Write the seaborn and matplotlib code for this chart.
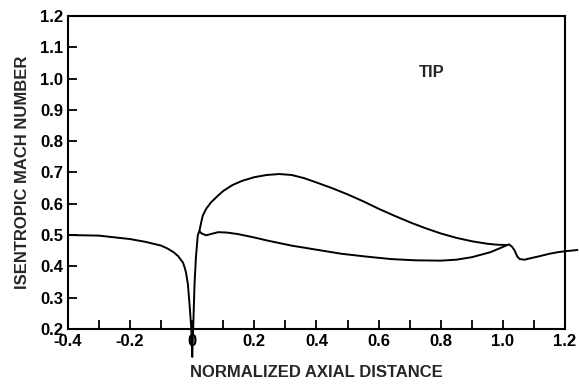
import numpy as np
import pandas as pd
import matplotlib
matplotlib.use("Agg")
import matplotlib.pyplot as plt
import seaborn as sns

# Upstream flow, leading-edge dip and suction surface
suction_x = [-0.40, -0.30, -0.20, -0.15, -0.10, -0.08, -0.06, -0.045, -0.03, -0.025,
             -0.02, -0.014, -0.008, -0.003, 0.0, 0.003, 0.0074, 0.012, 0.018, 0.023,
             0.029, 0.034, 0.045, 0.061, 0.083, 0.10, 0.13, 0.16, 0.20, 0.24, 0.28, 0.32,
             0.36, 0.40, 0.45, 0.50, 0.55, 0.60, 0.65, 0.70, 0.75, 0.80, 0.85, 0.90,
             0.95, 0.98, 1.01]
suction_m = [0.500, 0.498, 0.487, 0.478, 0.466, 0.457, 0.445, 0.432, 0.412, 0.398,
             0.380, 0.343, 0.270, 0.200, 0.110, 0.200, 0.343, 0.430, 0.500, 0.512,
             0.541, 0.562, 0.584, 0.605, 0.626, 0.641, 0.660, 0.673, 0.685, 0.692, 0.695, 0.692,
             0.682, 0.668, 0.650, 0.630, 0.608, 0.584, 0.562, 0.541, 0.522, 0.505, 0.491, 0.480,
             0.472, 0.469, 0.468]

# Pressure surface and wake
pressure_x = [0.023, 0.03, 0.045, 0.06, 0.083, 0.11, 0.147, 0.20, 0.243, 0.32, 0.40,
              0.48, 0.56, 0.64, 0.72, 0.80, 0.85, 0.90, 0.96, 1.01, 1.02, 1.03, 1.038,
              1.046, 1.054, 1.07, 1.09, 1.113, 1.15, 1.177, 1.20, 1.24]
pressure_m = [0.512, 0.505, 0.499, 0.503, 0.509, 0.508, 0.503, 0.492, 0.482, 0.466, 0.453,
              0.440, 0.431, 0.423, 0.419, 0.418, 0.421, 0.429, 0.445, 0.466, 0.470, 0.462, 0.450,
              0.432, 0.423, 0.421, 0.426, 0.431, 0.440, 0.445, 0.448, 0.452]

x_major = [-0.4, -0.2, 0.0, 0.2, 0.4, 0.6, 0.8, 1.0, 1.2]
x_labels = ["-0.4", "-0.2", "0", "0.2", "0.4", "0.6", "0.8", "1.0", "1.2"]
y_major = [0.2, 0.3, 0.4, 0.5, 0.6, 0.7, 0.8, 0.9, 1.0, 1.1, 1.2]

sns.set_style("ticks", {"xtick.direction": "in", "ytick.direction": "in",
                        "xtick.color": "black", "ytick.color": "black"})
plt.rcParams['font.family'] = ['Liberation Sans', 'DejaVu Sans']
plt.rcParams['font.weight'] = 'bold'
plt.rcParams['xtick.major.size'] = 6.5
plt.rcParams['xtick.minor.size'] = 6.5
plt.rcParams['ytick.major.size'] = 6.5
plt.rcParams['xtick.major.width'] = 1.3
plt.rcParams['xtick.minor.width'] = 1.3
plt.rcParams['ytick.major.width'] = 1.3

fig = plt.figure(figsize=(5.79, 3.85), dpi=100)
ax = fig.add_axes([0.1174, 0.146, 0.8584, 0.812])

suction = pd.DataFrame({"x": suction_x, "mach": suction_m})
pressure = pd.DataFrame({"x": pressure_x, "mach": pressure_m})
sns.lineplot(data=suction, x="x", y="mach", sort=False, estimator=None,
             color="black", linewidth=1.4, clip_on=False, ax=ax)
sns.lineplot(data=pressure, x="x", y="mach", sort=False, estimator=None,
             color="black", linewidth=1.4, clip_on=False, ax=ax)

ax.set_xlim(-0.4, 1.2)
ax.set_ylim(0.2, 1.2)
ax.set_xticks(x_major)
ax.set_xticklabels(x_labels)
ax.set_xticks(np.arange(-0.3, 1.2, 0.2), minor=True)
ax.set_yticks(y_major)
ax.set_yticklabels([f"{v:.1f}" for v in y_major])

ax.tick_params(axis="both", which="both", direction="in", labelsize=12,
               color="black", top=False, right=False)
ax.tick_params(axis="x", pad=4)
ax.tick_params(axis="y", pad=3.5)
for lab in ax.get_xticklabels() + ax.get_yticklabels():
    lab.set_fontweight("bold")

for side in ["top", "right", "bottom", "left"]:
    ax.spines[side].set_visible(True)
    ax.spines[side].set_linewidth(1.5)
    ax.spines[side].set_color("black")

ax.set_xlabel("NORMALIZED AXIAL DISTANCE", fontsize=12, fontweight="bold", labelpad=11)
ax.set_ylabel("ISENTROPIC MACH NUMBER", fontsize=12, fontweight="bold", labelpad=7)
ax.text(0.77, 1.02, "TIP", fontsize=12, fontweight="bold", ha="center", va="center")

fig.savefig("out.png", dpi=100)
